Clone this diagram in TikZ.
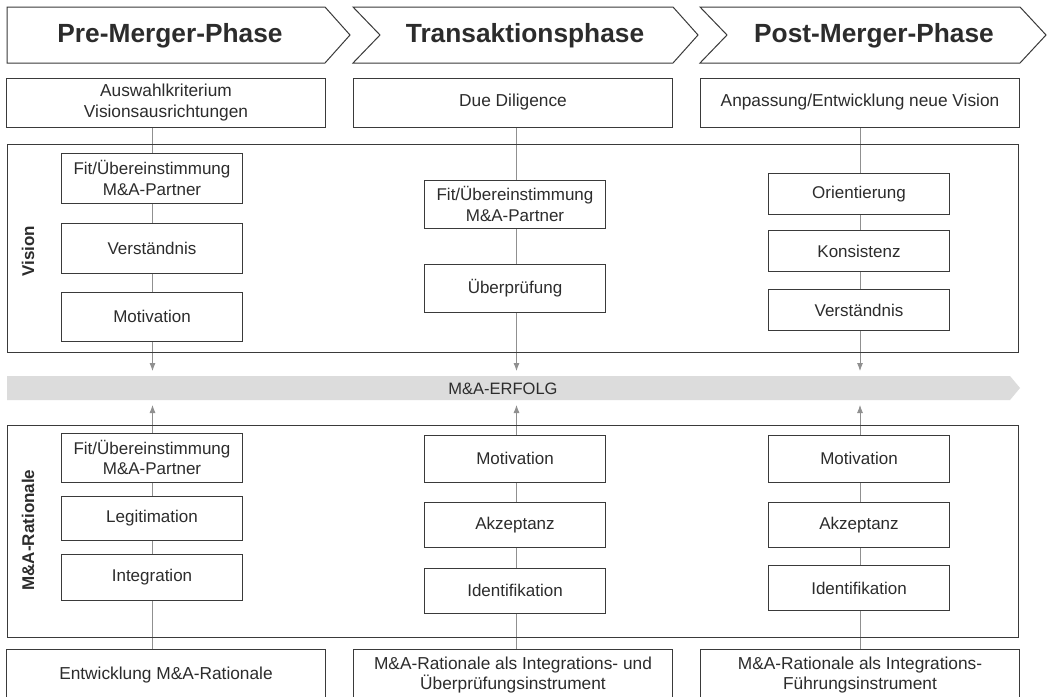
\documentclass[tikz,border=0pt]{standalone}
\usepackage{fontspec}
\setmainfont{Liberation Sans}
\usepackage{tikz}
\usetikzlibrary{arrows.meta}
\usetikzlibrary{positioning}
\usetikzlibrary{calc}
\usetikzlibrary{backgrounds}
\definecolor{rahmen}{HTML}{3A3A3A}
\definecolor{linie}{HTML}{909090}
\definecolor{band}{HTML}{DCDCDC}
\definecolor{schrift}{HTML}{2C2C2C}
\tikzset{
    phase/.style={draw=rahmen, line width=1pt, fill=white},
    phasetext/.style={font=\fontsize{26.3}{29}\selectfont\bfseries, text=schrift},
    feld/.style={draw=rahmen, line width=1pt, fill=white, minimum width=319pt,
        minimum height=49pt, inner sep=0pt, align=center, text=schrift,
        font=\fontsize{17.3}{20.5}\selectfont},
    kasten/.style={draw=rahmen, line width=1pt, fill=white, minimum width=181pt,
        inner sep=0pt, align=center, text=schrift,
        font=\fontsize{17}{20.5}\selectfont},
    gebiet/.style={draw=rahmen, line width=1pt, inner sep=0pt},
    seitentext/.style={rotate=90, font=\fontsize{17}{20}\selectfont\bfseries, text=schrift},
    verbindung/.style={draw=linie, line width=0.8pt},
    pfeil/.style={verbindung, -{Latex[length=8pt,width=6pt]}},
}

\begin{document}
\begin{tikzpicture}[x=1pt,y=-1pt]
\def\ka{152}
\def\kb{515}
\def\kc{859}

\useasboundingbox (0,0) rectangle (1048,696);
\clip (0,0) rectangle (1048,696);

% Phasen
\draw [phase] (7,7) -- (325,7) -- (350,35) -- (325,63) -- (7,63) -- cycle;
\draw [phase] (353,7) -- (673,7) -- (698,35) -- (673,63) -- (353,63) -- (380,35) -- cycle;
\draw [phase] (700,7) -- (1020,7) -- (1046,35) -- (1020,63) -- (700,63) -- (727,35) -- cycle;
\node [phasetext] (pre) at (170,36) {Pre-Merger-Phase};
\node [phasetext] (trans) at (525,36) {Transaktionsphase};
\node [phasetext] (post) at (874,36) {Post-Merger-Phase};

\node [feld] (ziel1) at (166,102.5) {Auswahlkriterium\\Visionsausrichtungen};
\node [feld] (ziel2) at (513,102.5) {Due Diligence};
\node [feld] (ziel3) at (860,102.5) {Anpassung/Entwicklung neue Vision};

% Vision
\node [gebiet, minimum width=1011pt, minimum height=208pt] (vision) at (512.5,248) {};
\node [seitentext] (visionlabel) at (28,251) {Vision};

\node [kasten, minimum height=50pt] (vfit1) at (\ka,178) {Fit/Übereinstimmung\\M\&A-Partner};
\node [kasten, minimum height=50pt] (vver1) at (\ka,248.5) {Verständnis};
\node [kasten, minimum height=49pt] (vmot1) at (\ka,316.5) {Motivation};

\node [kasten, minimum height=48pt] (vfit2) at (\kb,204) {Fit/Übereinstimmung\\M\&A-Partner};
\node [kasten, minimum height=48pt] (vpruef2) at (\kb,288) {Überprüfung};

\node [kasten, minimum height=41pt] (vori3) at (\kc,194) {Orientierung};
\node [kasten, minimum height=41pt] (vkon3) at (\kc,251) {Konsistenz};
\node [kasten, minimum height=41pt] (vver3) at (\kc,310) {Verständnis};

% Erfolg
\fill [band] (7,376) -- (1010,376) -- (1020,388) -- (1010,400) -- (7,400) -- cycle;
\node [text=schrift, font=\fontsize{16.5}{18}\selectfont] (erfolg) at (503,388.5) {M\&A-ERFOLG};

% M&A-Rationale
\node [gebiet, minimum width=1011pt, minimum height=212pt] (ratio) at (512.5,531) {};
\node [seitentext] (ratiolabel) at (28,530) {M\&A-Rationale};

\node [kasten, minimum height=49pt] (rfit1) at (\ka,457.5) {Fit/Übereinstimmung\\M\&A-Partner};
\node [kasten, minimum height=44pt] (rleg1) at (\ka,518) {Legitimation};
\node [kasten, minimum height=46pt] (rint1) at (\ka,577) {Integration};

\node [kasten, minimum height=47pt] (rmot2) at (\kb,458.5) {Motivation};
\node [kasten, minimum height=45pt] (rakz2) at (\kb,525) {Akzeptanz};
\node [kasten, minimum height=45pt] (ride2) at (\kb,590.5) {Identifikation};

\node [kasten, minimum height=47pt] (rmot3) at (\kc,458.5) {Motivation};
\node [kasten, minimum height=45pt] (rakz3) at (\kc,525) {Akzeptanz};
\node [kasten, minimum height=45pt] (ride3) at (\kc,588) {Identifikation};

\node [feld, minimum height=52pt] (basis1) at (166,675) {Entwicklung M\&A-Rationale};
\node [feld, minimum height=52pt] (basis2) at (513,675) {M\&A-Rationale als Integrations- und\\Überprüfungsinstrument};
\node [feld, minimum height=52pt] (basis3) at (860,675) {M\&A-Rationale als Integrations-\\Führungsinstrument};

\coordinate (oben1) at (\ka+0.5,371);
\coordinate (oben2) at (\kb+1.5,371);
\coordinate (oben3) at (\kc+1,371);
\coordinate (unten1) at (\ka+0.5,405);
\coordinate (unten2) at (\kb+1.5,405);
\coordinate (unten3) at (\kc+1,405);

\begin{scope}[on background layer]
\fill [white] (0,0) rectangle (1048,696);
\draw [pfeil] (ziel1.south -| oben1) -- (oben1);
\draw [pfeil] (ziel2.south -| oben2) -- (oben2);
\draw [pfeil] (ziel3.south -| oben3) -- (oben3);
\draw [pfeil] (basis1.north -| unten1) -- (unten1);
\draw [pfeil] (basis2.north -| unten2) -- (unten2);
\draw [pfeil] (basis3.north -| unten3) -- (unten3);
\end{scope}

\end{tikzpicture}
\end{document}
